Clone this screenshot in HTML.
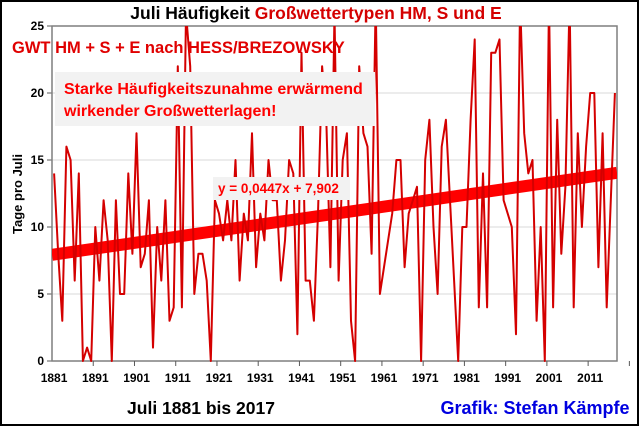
<!DOCTYPE html>
<html><head><meta charset="utf-8"><style>
html,body{margin:0;padding:0;background:#fff}
svg{display:block;font-family:"Liberation Sans",Arial,sans-serif}
</style></head><body>
<svg id="c" width="640" height="427" viewBox="0 0 640 427" xmlns="http://www.w3.org/2000/svg">
<rect x="1" y="1" width="637" height="424" fill="#fff" stroke="#000" stroke-width="2"/>
<text x="316" y="19" text-anchor="middle" font-size="17.5" font-weight="bold"><tspan fill="#000">Juli Häufigkeit </tspan><tspan fill="#d40000">Großwettertypen HM, S und E</tspan></text>
<g id="grid"></g>
<g id="axes"></g>
<defs><clipPath id="pc"><rect x="52" y="26" width="565" height="336"/></clipPath></defs>
<g id="series" clip-path="url(#pc)"></g>
<text x="12" y="53" font-size="16.5" font-weight="bold" fill="#e00000">GWT HM + S + E nach HESS/BREZOWSKY</text>
<rect x="55" y="72" width="320" height="54" fill="#f2f2f2"/>
<text x="64" y="94" font-size="16" font-weight="bold" fill="#ff0000">Starke Häufigkeitszunahme erwärmend</text>
<text x="64" y="116" font-size="16" font-weight="bold" fill="#ff0000">wirkender Großwetterlagen!</text>
<rect x="213" y="177" width="137" height="23" fill="#f2f2f2"/>
<text x="218" y="193" font-size="13.5" font-weight="bold" fill="#ff0000">y = 0,0447x + 7,902</text>
<text x="22" y="194" transform="rotate(-90 22 194)" text-anchor="middle" font-size="13" font-weight="bold" fill="#000">Tage pro Juli</text>
<text x="201" y="414" text-anchor="middle" font-size="17.5" font-weight="bold" fill="#000">Juli 1881 bis 2017</text>
<text x="535" y="414" text-anchor="middle" font-size="18" font-weight="bold" fill="#0000e0">Grafik: Stefan Kämpfe</text>
</svg>
<script>
const startYear = 1881;
const values = [14,8,3,16,15,6,14,0,1,0,10,6,12,9,0,12,5,5,14,8,17,7,8,12,1,10,6,12,3,4,22,4,26,22,5,8,8,6,0,12,11,9,12,9,15,6,11,9,17,7,11,9,15,12,12,6,9,15,14,2,23,6,6,3,11,22,18,7,26,6,15,17,3,0,22,17,16,8,27,5,7,9,11,15,15,7,11,12,13,0,15,18,10,5,16,18,12,6,0,10,10,18,24,4,14,4,23,23,24,12,11,10,2,27,17,14,15,3,10,0,27,4,18,8,13,27,4,17,10,16,20,20,7,17,4,12,20];
const yTicks = [0,5,10,15,20,25];
const xTickLabels = [1881,1891,1901,1911,1921,1931,1941,1951,1961,1971,1981,1991,2001,2011];
const trendSlope = [0.0447];
const trendIntercept = [7.902];

const L=52,R=617,T=26,B=361,yMax=25;
const n=values.length, step=(R-L)/n;
const xs=i=>L+(i+0.5)*step;
const ys=v=>B-(v/yMax)*(B-T);
const NS='http://www.w3.org/2000/svg';
function mk(tag,attrs,parent){const e=document.createElementNS(NS,tag);for(const k in attrs)e.setAttribute(k,attrs[k]);parent.appendChild(e);return e;}
const grid=document.getElementById('grid'),axes=document.getElementById('axes'),series=document.getElementById('series');

yTicks.forEach(t=>{
  if(t>0&&t<yMax){const g=mk('line',{x1:L,x2:R,y1:ys(t),y2:ys(t),stroke:'#d9d9d9','stroke-width':1},grid);
  
  }
  const tk=mk('line',{x1:L-5,x2:L,y1:ys(t),y2:ys(t),stroke:'#595959'},axes);
  
  
  const lb=mk('text',{x:L-8,y:ys(t)+4,'text-anchor':'end','font-size':12,'font-weight':'bold'},axes);
  lb.textContent=t;
  
  
});
const frame=mk('rect',{x:L,y:T,width:R-L,height:B-T,fill:'none',stroke:'#7f7f7f','stroke-width':1.5},axes);


xTickLabels.forEach(yr=>{
  const i=yr-startYear;
  const tk=mk('line',{x1:L+(i+10)*step,x2:L+(i+10)*step,y1:B,y2:B+5,stroke:'#595959'},axes);
  
  
  const lb=mk('text',{x:xs(i),y:B+21,'text-anchor':'middle','font-size':12,'font-weight':'bold'},axes);
  lb.textContent=yr;
  
  
});
const tr=mk('line',{x1:L,y1:ys(trendIntercept[0]+trendSlope[0]*0.5),x2:R,y2:ys(trendIntercept[0]+trendSlope[0]*(n+0.5)),stroke:'#ff0000','stroke-width':12},series);


const pl=mk('polyline',{points:values.map((v,i)=>xs(i).toFixed(1)+','+ys(v).toFixed(1)).join(' '),fill:'none',stroke:'#d40000','stroke-width':2,'stroke-linejoin':'round'},series);


</script>
</body></html>
